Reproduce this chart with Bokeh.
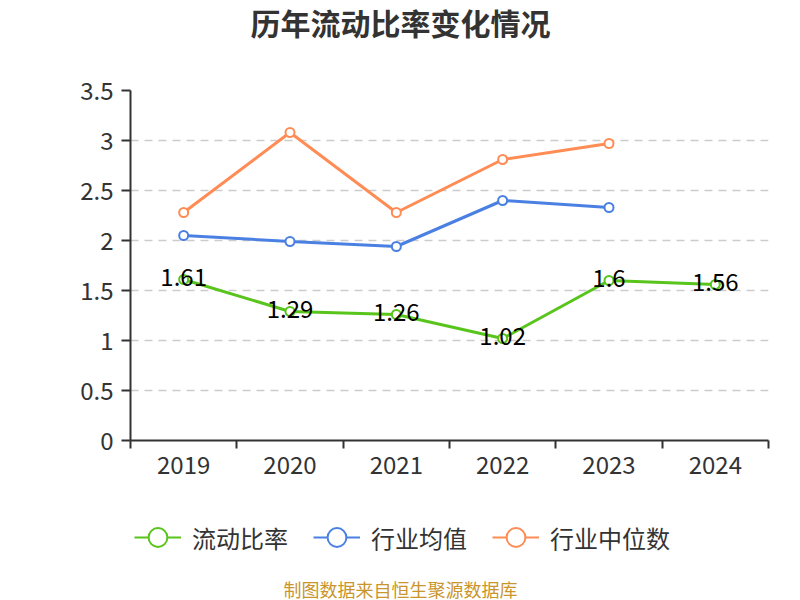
import numpy as np
from bokeh.plotting import figure
from bokeh.layouts import column
from bokeh.models import (Range1d, FixedTicker, CustomJSTickFormatter, Label, Legend,
                          LegendItem, ColumnDataSource)
from bokeh.core.properties import value
from bokeh.embed import file_html
from bokeh.resources import INLINE

years = ["2019", "2020", "2021", "2022", "2023", "2024"]
current_ratio = [1.61, 1.29, 1.26, 1.02, 1.60, 1.56]
industry_mean = [2.05, 1.99, 1.94, 2.40, 2.33]
industry_median = [2.28, 3.08, 2.28, 2.81, 2.97]
y_ticks = [0, 0.5, 1, 1.5, 2, 2.5, 3, 3.5]
series_names = ["流动比率", "行业均值", "行业中位数"]
colors = ["#58c41c", "#4b80e3", "#ff8c55"]
title_text = "历年流动比率变化情况"
footer_text = "制图数据来自恒生聚源数据库"

FONT = "Noto Sans CJK SC"
W = 800
BL, BR = 130, 32          # left / right borders shared by all strips
FW = W - BL - BR          # frame width


def text_fig(h):
    f = figure(width=W, height=h, output_backend="svg", toolbar_location=None,
               x_range=Range1d(0, FW), y_range=Range1d(0, h),
               min_border_left=BL, min_border_right=BR,
               min_border_top=0, min_border_bottom=0)
    f.axis.visible = False
    f.grid.visible = False
    f.outline_line_color = None
    return f


# ---- title strip
top = text_fig(60)
top.add_layout(Label(x=400 - BL, y=60 - 21, text=title_text, text_align="center",
                     text_baseline="middle", text_font=FONT, text_font_size="30px",
                     text_font_style="bold", text_color="#333333"))

# ---- main chart
xs = np.arange(len(years)) + 0.5
p = figure(width=W, height=430, output_backend="svg", toolbar_location=None,
           x_range=Range1d(0, len(years)), y_range=Range1d(y_ticks[0], y_ticks[-1]),
           min_border_left=BL, min_border_right=BR, min_border_top=30, min_border_bottom=50)
p.outline_line_color = None

xa = p.xaxis[0]
xa.ticker = FixedTicker(ticks=list(xs), minor_ticks=list(range(len(years) + 1)))
xa.formatter = CustomJSTickFormatter(args=dict(labels=years),
                                     code="return labels[Math.floor(tick)]")
xa.major_tick_out = 0
xa.major_tick_in = 0
xa.minor_tick_out = 8
xa.minor_tick_in = 0
xa.minor_tick_line_color = "#333333"
xa.minor_tick_line_width = 2
xa.axis_line_color = "#333333"
xa.axis_line_width = 2
xa.major_label_text_font = FONT
xa.major_label_text_font_size = "24px"
xa.major_label_text_color = "#333333"
xa.major_label_standoff = 7

ya = p.yaxis[0]
ya.ticker = FixedTicker(ticks=y_ticks, minor_ticks=[])
ya.formatter = CustomJSTickFormatter(code="return tick.toString()")
ya.major_tick_out = 9
ya.major_tick_in = 0
ya.major_tick_line_color = "#333333"
ya.major_tick_line_width = 2
ya.axis_line_color = "#333333"
ya.axis_line_width = 2
ya.major_label_text_font = FONT
ya.major_label_text_font_size = "24px"
ya.major_label_text_color = "#333333"
ya.major_label_standoff = 8

p.xgrid.visible = False
p.ygrid.ticker = FixedTicker(ticks=y_ticks)
p.ygrid.grid_line_color = "#cccccc"
p.ygrid.grid_line_width = 1.5
p.ygrid.grid_line_dash = "8 6"

series = [industry_median, industry_mean, current_ratio]
scol = [colors[2], colors[1], colors[0]]
for vals, c in zip(series, scol):
    src = ColumnDataSource(dict(x=xs[:len(vals)], y=vals))
    p.line("x", "y", source=src, line_color=c, line_width=3)
    p.scatter("x", "y", source=src, size=9, marker="circle", fill_color="white",
              line_color=c, line_width=2)

lab_src = ColumnDataSource(dict(x=xs, y=current_ratio, t=[f"{v:g}" for v in current_ratio]))
p.text("x", "y", text="t", source=lab_src, text_align="center", text_baseline="middle",
       y_offset=-3, text_font=value(FONT), text_font_size="24px", text_color="#000000")

# ---- legend + footer strip
bot = text_fig(110)
items = []
for name, c in zip(series_names, colors):
    dsrc = ColumnDataSource(dict(x=[np.nan], y=[np.nan]))
    r1 = bot.line("x", "y", source=dsrc, line_color=c, line_width=2)
    r2 = bot.scatter("x", "y", source=dsrc, marker="circle", size=18, fill_color="white",
                     line_color=c, line_width=2)
    items.append(LegendItem(label=value(name), renderers=[r1, r2]))
legend = Legend(items=items, orientation="horizontal", location=(134 - BL, 39),
                glyph_width=47, glyph_height=48, label_standoff=11, spacing=25,
                padding=0, margin=0, border_line_alpha=0, background_fill_alpha=0,
                label_text_font=FONT, label_text_font_size="24px",
                label_text_color="#333333")
bot.add_layout(legend, "center")
bot.add_layout(Label(x=400 - BL, y=110 - 98, text=footer_text, text_align="center",
                     text_baseline="middle", text_font=FONT, text_font_size="18px",
                     text_color="#c9952c"))

layout = column(top, p, bot, spacing=0)
open("out.html", "w").write(file_html(layout, INLINE))
